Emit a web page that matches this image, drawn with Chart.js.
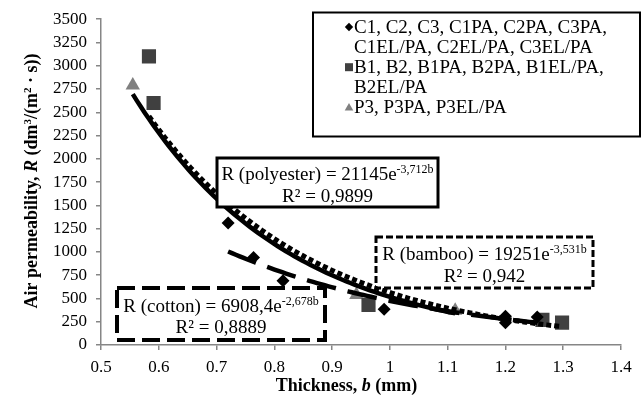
<!DOCTYPE html>
<html><head><meta charset="utf-8">
<script src="https://cdn.jsdelivr.net/npm/chart.js@4.4.1/dist/chart.umd.min.js"></script>
<style>html,body{margin:0;padding:0;background:#fff;}#wrap{width:643px;height:403px;position:relative;}</style>
</head><body><div id="wrap"><canvas id="c" width="643" height="403"></canvas></div>
<script>
// ---- data ----
const xTickLabels = ['0.5','0.6','0.7','0.8','0.9','1','1.1','1.2','1.3','1.4'];
const yTickLabels = ['0','250','500','750','1000','1250','1500','1750','2000','2250','2500','2750','3000','3250','3500'];

const cottonThickness = [0.72, 0.764, 0.815, 0.99, 1.20, 1.20, 1.255];
const cottonPerm      = [1310, 940, 690, 385, 310, 240, 300];
const bambooThickness = [0.583, 0.591, 0.963, 1.264, 1.298];
const bambooPerm      = [3100, 2600, 430, 270, 240];
const polyThickness   = [0.555, 0.942, 1.113];
const polyPerm        = [2790, 540, 370];

const seriesNames = [
  ['C1, C2, C3, C1PA, C2PA, C3PA,', 'C1EL/PA, C2EL/PA, C3EL/PA'],
  ['B1, B2, B1PA, B2PA, B1EL/PA,', 'B2EL/PA'],
  ['P3, P3PA, P3EL/PA']
];

// trend lines as printed on the chart: R = A * e^(k b)
const trendNames  = ['R (cotton)', 'R (bamboo)', 'R (polyester)'];
const trendA      = [6908.4, 19251, 21145];
const trendK      = [-2.678, -3.531, -3.712];
const trendAText  = ['6908,4', '19251', '21145'];
const trendKText  = ['-2,678b', '-3,531b', '-3,712b'];
const trendR2Text = ['0,8889', '0,942', '0,9899'];
const trendFrom   = [0.72, 0.583, 0.555];
const trendTo     = [1.255, 1.298, 1.113];

// ---- build ----
const SERIF = '"Liberation Serif","Times New Roman",serif';
function pts(xs, ys){ return xs.map((x,i)=>({x:x, y:ys[i]})); }
function trendPts(i){
  const out=[]; const n=80;
  for(let j=0;j<=n;j++){ const b=trendFrom[i]+(trendTo[i]-trendFrom[i])*j/n; out.push({x:b, y:trendA[i]*Math.exp(trendK[i]*b)}); }
  return out;
}

const markerDatasets = [
  {label:seriesNames[0].join(' '), data:pts(cottonThickness,cottonPerm), pointStyle:'rectRot', pointRadius:6.5, backgroundColor:'#000', borderColor:'#000', borderWidth:0, order:2},
  {label:seriesNames[1].join(' '), data:pts(bambooThickness,bambooPerm), pointStyle:'rect', pointRadius:10, backgroundColor:'#404040', borderColor:'#404040', borderWidth:0, order:2},
  {label:seriesNames[2].join(' '), data:pts(polyThickness,polyPerm), pointStyle:'triangle', pointRadius:8.3, backgroundColor:'#808080', borderColor:'#808080', borderWidth:0, order:2}
];
const trendStyles = [
  {borderDash:[30,12], borderWidth:4.5},
  {borderDash:[5,3], borderWidth:5},
  {borderDash:[], borderWidth:4.5}
];
const trendDatasets = trendNames.map((n,i)=>({
  label:n, data:trendPts(i), showLine:true, pointRadius:0, borderColor:'#000', backgroundColor:'#000',
  borderDash:trendStyles[i].borderDash, borderWidth:trendStyles[i].borderWidth, tension:0, fill:false, order:1, borderCapStyle:'butt'
}));

function richWidth(ctx, segs){ let w=0; for(const s of segs){ ctx.font=s.font; w+=ctx.measureText(s.t).width; } return w; }
function drawRich(ctx, segs, x, y, center){
  const w=richWidth(ctx,segs); let cx = center ? x-w/2 : x;
  for(const s of segs){ ctx.font=s.font; ctx.fillText(s.t, cx, y-(s.dy||0)); cx+=ctx.measureText(s.t).width; }
}

const boxes = [
  {x1:117, y1:288, x2:325, y2:340, dash:[18,7], lw:4, base1:311.5, base2:333},
  {x1:376, y1:237, x2:593, y2:288, dash:[7,3], lw:3, base1:259.5, base2:281.5},
  {x1:217, y1:158, x2:438, y2:207, dash:[], lw:3, base1:179.5, base2:201.5}
];

const overlay = {
  id:'overlay',
  afterDraw(chart){
    const ctx=chart.ctx; ctx.save();
    ctx.textAlign='left'; ctx.textBaseline='alphabetic'; ctx.fillStyle='#000';
    const f19 = '19px '+SERIF, fsup = '12px '+SERIF;
    // trend annotation boxes
    boxes.forEach((b,i)=>{
      ctx.fillStyle='#fff'; ctx.fillRect(b.x1,b.y1,b.x2-b.x1,b.y2-b.y1);
      ctx.strokeStyle='#000'; ctx.lineWidth=b.lw; ctx.setLineDash(b.dash); ctx.lineCap='butt';
      ctx.strokeRect(b.x1,b.y1,b.x2-b.x1,b.y2-b.y1); ctx.setLineDash([]);
      ctx.fillStyle='#000';
      const cx=(b.x1+b.x2)/2;
      drawRich(ctx,[{t:trendNames[i]+' = '+trendAText[i]+'e',font:f19},{t:trendKText[i],font:fsup,dy:7}],cx,b.base1,true);
      drawRich(ctx,[{t:'R² = '+trendR2Text[i],font:f19}],cx,b.base2,true);
    });
    // legend
    ctx.strokeStyle='#000'; ctx.lineWidth=2; ctx.strokeRect(313,12.5,327,124);
    const lx=354, mx=349; let base=33; const lh=20.1;
    const colors=['#000','#404040','#808080'];
    seriesNames.forEach((lines,i)=>{
      const my=base-6; ctx.fillStyle=colors[i]; ctx.beginPath();
      if(i===0){ ctx.moveTo(mx-4.2,my); ctx.lineTo(mx,my-4.2); ctx.lineTo(mx+4.2,my); ctx.lineTo(mx,my+4.2); ctx.closePath(); ctx.fill(); }
      else if(i===1){ ctx.fillRect(mx-4,my-4,8,8); }
      else { ctx.moveTo(mx,my-4.5); ctx.lineTo(mx+4.3,my+3); ctx.lineTo(mx-4.3,my+3); ctx.closePath(); ctx.fill(); }
      ctx.fillStyle='#000'; ctx.font=f19;
      lines.forEach(l=>{ ctx.fillText(l,lx,base); base+=lh; });
    });
    // axis titles
    const fb='bold 18px '+SERIF, fbi='italic bold 18px '+SERIF, fbs='bold 11px '+SERIF;
    drawRich(ctx,[{t:'Thickness, ',font:fb},{t:'b',font:fbi},{t:' (mm)',font:fb}],346.5,391,true);
    ctx.translate(37,181); ctx.rotate(-Math.PI/2);
    drawRich(ctx,[{t:'Air permeability, ',font:fb},{t:'R',font:fbi},{t:' (dm',font:fb},{t:'3',font:fbs,dy:6},{t:'/(m',font:fb},{t:'2',font:fbs,dy:6},{t:' · s))',font:fb}],0,0,true);
    ctx.restore();
  }
};

new Chart(document.getElementById('c').getContext('2d'), {
  type:'scatter',
  data:{datasets:[...trendDatasets, ...markerDatasets]},
  options:{
    responsive:false, animation:false, devicePixelRatio:1,
    layout:{padding:{top:17,right:22,left:0,bottom:0}},
    plugins:{legend:{display:false}, tooltip:{enabled:false}},
    scales:{
      x:{type:'linear', min:0.5, max:1.4,
         ticks:{stepSize:0.1, autoSkip:false, maxRotation:0, color:'#000', padding:7, font:{family:SERIF,size:17},
                callback:(v)=>xTickLabels[Math.round((v-0.5)*10)]},
         grid:{drawOnChartArea:false, drawTicks:true, tickLength:5, color:'#868686', lineWidth:1.5},
         border:{color:'#868686', width:1.5},
         afterFit:(s)=>{ s.height=58; }},
      y:{min:0, max:3500,
         ticks:{stepSize:250, autoSkip:false, color:'#000', padding:9, font:{family:SERIF,size:17},
                callback:(v)=>yTickLabels[Math.round(v/250)]},
         grid:{drawOnChartArea:false, drawTicks:true, tickLength:5, color:'#868686', lineWidth:1.5},
         border:{color:'#868686', width:1.5},
         afterFit:(s)=>{ s.width=101; }}
    }
  },
  plugins:[overlay]
});
</script></body></html>
